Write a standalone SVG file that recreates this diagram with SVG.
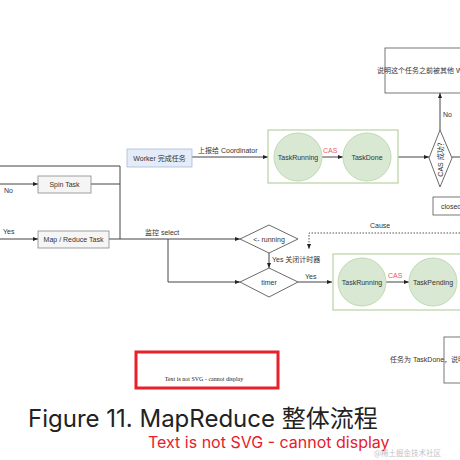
<svg xmlns="http://www.w3.org/2000/svg" width="460" height="460" viewBox="0 0 460 460">
<style>
.t{font-family:"Liberation Sans",Arial,"Noto Sans CJK SC",sans-serif;font-size:7px;fill:#333}
.ln{fill:none;stroke:#444;stroke-width:1}
.ds{fill:none;stroke:#555;stroke-width:1;stroke-dasharray:1.5 1.5}
.gray{fill:#f5f5f5;stroke:#888;stroke-width:0.8}
.blue{fill:#e3ecf8;stroke:#a8bcd8;stroke-width:0.8}
.wbox{fill:#fff;stroke:#555;stroke-width:0.8}
.grp{fill:none;stroke:#b8d3a2;stroke-width:1.2}
.circ{fill:#d8e8d3;stroke:#c1d9b5;stroke-width:1}
.dia{fill:#fff;stroke:#444;stroke-width:0.8}
.cas{font-family:"Liberation Sans",Arial,sans-serif;font-size:7px;fill:#e06060}
</style>
<defs>
<marker id="a" viewBox="0 0 10 10" refX="10" refY="5" markerWidth="5" markerHeight="5" orient="auto"><path d="M0,1 L10,5 L0,9 z" fill="#222"/></marker>
</defs>
<rect width="460" height="460" fill="#fff"/>
<g id="connectors">
<path class="ln" d="M0,166 H120 V239"/>
<path class="ln" d="M0,184 H38" marker-end="url(#a)"/>
<path class="ln" d="M91,184 H120"/>
<path class="ln" d="M0,239 H38" marker-end="url(#a)"/>
<path class="ln" d="M109,239 H240" marker-end="url(#a)"/>
<path class="ln" d="M168,239 V282 H240" marker-end="url(#a)"/>
<path class="ln" d="M269,253 V268" marker-end="url(#a)"/>
<path class="ln" d="M298,282 H332" marker-end="url(#a)"/>
<path class="ln" d="M386,282 H409" marker-end="url(#a)"/>
<path class="ds" d="M460,233 H309 V249" marker-end="url(#a)"/>
<path class="ln" d="M192,157 H268" marker-end="url(#a)"/>
<path class="ln" d="M322,157 H343" marker-end="url(#a)"/>
<path class="ln" d="M398,157 H429" marker-end="url(#a)"/>
<path class="ln" d="M452,157 H460"/>
<path class="ln" d="M440,130 V93" marker-end="url(#a)"/>
<text class="t" x="443" y="117">No</text>
<text class="t" x="4" y="193">No</text>
<text class="t" x="3" y="234">Yes</text>
<text class="t" x="145" y="235">监控 select</text>
<text class="t" x="198" y="153">上报给 Coordinator</text>
<text class="t" x="272" y="262">Yes 关闭计时器</text>
<text class="t" x="305" y="279">Yes</text>
<text class="t" x="370" y="228">Cause</text>
<text class="cas" x="323" y="153">CAS</text>
<text class="cas" x="388" y="278">CAS</text>
</g>
<g id="top-box"><rect class="wbox" x="385" y="48" width="80" height="45"/><text class="t" x="377" y="73">说明这个任务之前被其他 Worker</text></g>
<g id="cas-diamond"><path class="dia" d="M440,130 L452,158 L440,187 L429,158 z"/><text class="t" transform="translate(443,158) rotate(-90)" text-anchor="middle" font-size="6.5">CAS 成功？</text></g>
<g id="closed"><rect class="wbox" x="433" y="197" width="40" height="18"/><text class="t" x="441" y="209">closed</text></g>
<g id="worker"><rect class="blue" x="127" y="149" width="65" height="18"/><text class="t" x="159.5" y="160.5" text-anchor="middle">Worker 完成任务</text></g>
<g id="group1"><rect class="grp" x="268" y="130" width="130" height="53"/>
<circle class="circ" cx="298" cy="157" r="24"/><text class="t" x="298" y="159.5" text-anchor="middle">TaskRunning</text>
<circle class="circ" cx="367" cy="157" r="24"/><text class="t" x="367" y="159.5" text-anchor="middle">TaskDone</text></g>
<g id="spin"><rect class="gray" x="38" y="176" width="53" height="17"/><text class="t" x="64.5" y="187" text-anchor="middle" fill="#555">Spin Task</text></g>
<g id="mapreduce"><rect class="gray" x="38" y="231" width="71" height="17"/><text class="t" x="73.5" y="242" text-anchor="middle">Map / Reduce Task</text></g>
<g id="running"><path class="dia" d="M269,225 L298,239 L269,253 L240,239 z"/><text class="t" x="269" y="241.5" text-anchor="middle">&lt;- running</text></g>
<g id="timer"><path class="dia" d="M269,268 L298,282 L269,297 L240,282 z"/><text class="t" x="269" y="284.5" text-anchor="middle">timer</text></g>
<g id="group2"><rect class="grp" x="333" y="254" width="140" height="56"/>
<circle class="circ" cx="362" cy="282" r="24"/><text class="t" x="362" y="284.5" text-anchor="middle">TaskRunning</text>
<circle class="circ" cx="433" cy="282" r="24"/><text class="t" x="433" y="284.5" text-anchor="middle">TaskPending</text></g>
<g id="bottom-right"><rect class="wbox" x="444" y="337" width="30" height="46"/><text class="t" x="390" y="362" font-size="6.5">任务为 TaskDone，说明</text></g>
<g id="error-box"><rect x="136" y="352" width="142" height="36" fill="#fff" stroke="#e8202a" stroke-width="3"/><text x="204" y="381" text-anchor="middle" font-family="'Liberation Serif',serif" font-size="6" fill="#222">Text is not SVG - cannot display</text></g>
<text x="28" y="427" font-family="Inter,'Noto Sans','Noto Sans CJK SC',sans-serif" font-size="24" fill="#222">Figure 11. MapReduce 整体流程</text>
<text x="148" y="448" font-family="Inter,'Noto Sans',sans-serif" font-size="16" fill="#e8202a">Text is not SVG - cannot display</text>
<text x="374" y="456" font-family="'Noto Sans CJK SC',sans-serif" font-size="7.5" fill="#c4c4c4">@稀土掘金技术社区</text>
</svg>
